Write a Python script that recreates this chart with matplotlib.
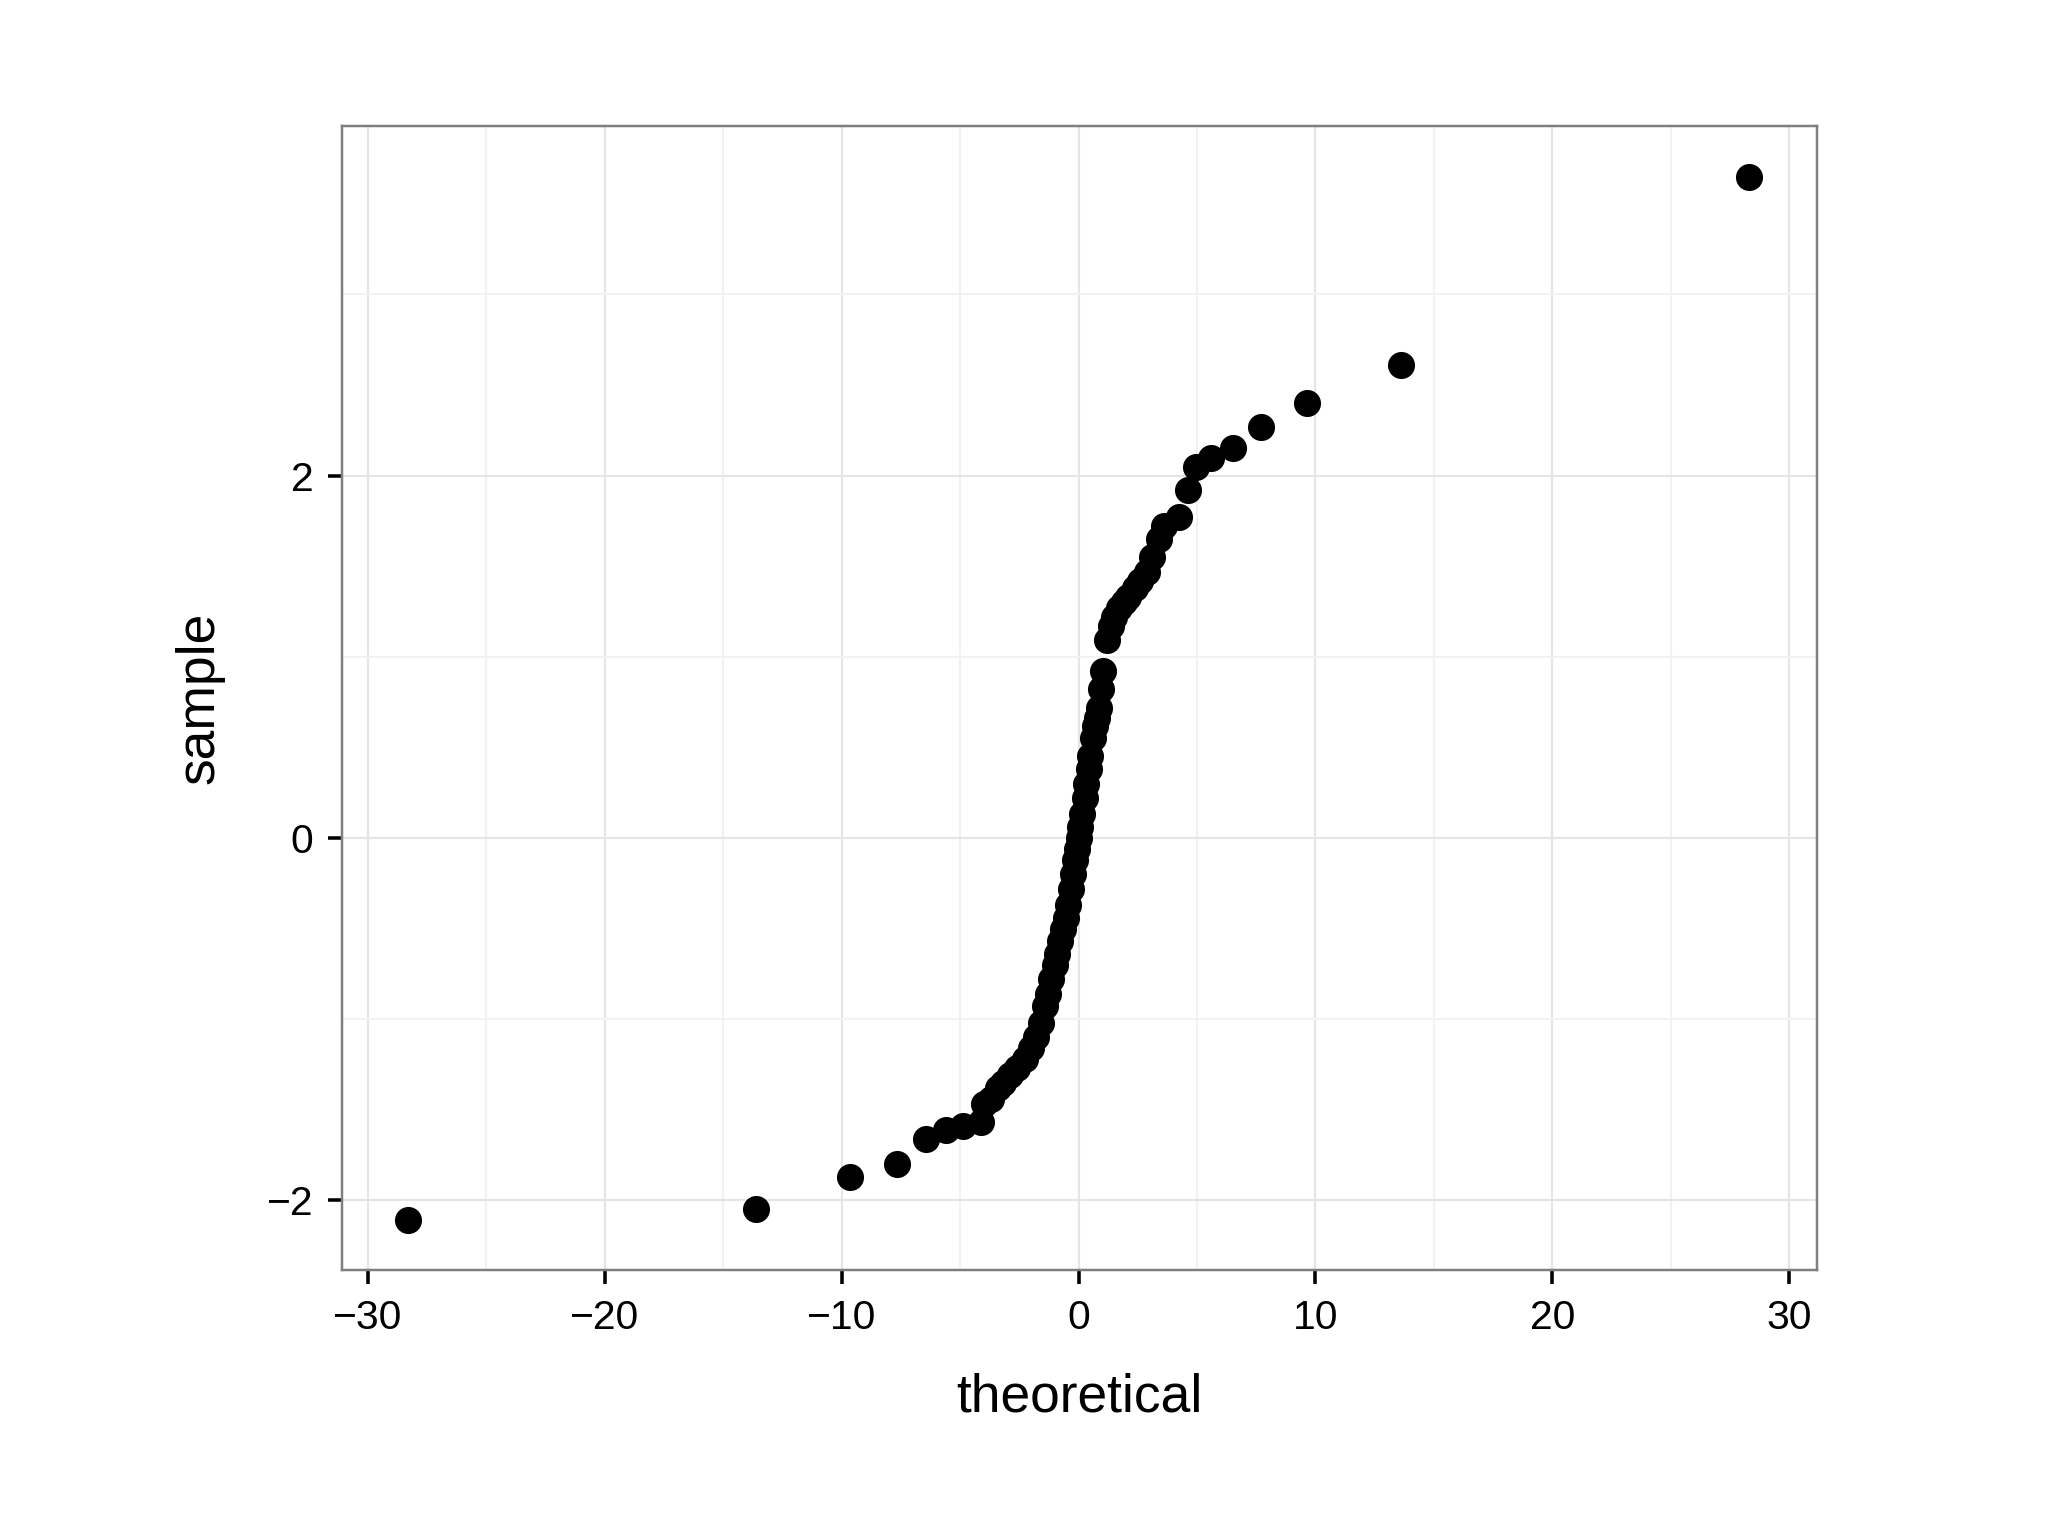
import matplotlib
matplotlib.use("Agg")
import matplotlib.pyplot as plt

plt.rcParams['font.family'] = ['Liberation Sans', 'DejaVu Sans']

theoretical = [-28.3, -13.6, -9.65, -7.67, -6.45, -5.6, -4.9, -4.1, -4.0, -3.7, -3.4, -3.2, -2.9, -2.6, -2.26,
               -2.0, -1.8, -1.6, -1.43, -1.3, -1.15, -1.0, -0.9, -0.77, -0.65, -0.55, -0.45, -0.33, -0.25,
               -0.15, -0.08, 0.0, 0.08, 0.15, 0.25, 0.33, 0.42, 0.5, 0.6, 0.7, 0.77, 0.85, 0.95, 1.05, 1.2,
               1.35, 1.5, 1.7, 1.9, 2.1, 2.4, 2.6, 2.9, 3.1, 3.4, 3.6, 4.25, 4.6, 4.96, 5.6, 6.5, 7.7, 9.65,
               13.6, 28.3]
sample = [-2.11, -2.05, -1.87, -1.80, -1.66, -1.61, -1.59, -1.57, -1.47, -1.44, -1.38, -1.35, -1.31, -1.27, -1.22,
          -1.16, -1.10, -1.02, -0.93, -0.86, -0.78, -0.70, -0.64, -0.57, -0.50, -0.44, -0.37, -0.28, -0.20,
          -0.12, -0.06, 0.0, 0.06, 0.13, 0.22, 0.30, 0.38, 0.45, 0.55, 0.62, 0.66, 0.72, 0.82, 0.92, 1.09,
          1.17, 1.22, 1.27, 1.30, 1.33, 1.38, 1.42, 1.47, 1.55, 1.65, 1.72, 1.77, 1.92, 2.05, 2.10, 2.15,
          2.27, 2.40, 2.61, 3.65]

fig = plt.figure(figsize=(8, 6), dpi=256)
ax = fig.add_axes([0.167, 0.173, 0.72, 0.745])
ax.scatter(theoretical, sample, s=58, color="black", zorder=3, linewidths=0)
ax.set_xlim(-31.1, 31.16)
ax.set_ylim(-2.386, 3.93)
ax.set_xticks([-30, -20, -10, 0, 10, 20, 30])
ax.set_xticklabels(["\u221230", "\u221220", "\u221210", "0", "10", "20", "30"])
ax.set_yticks([-2, 0, 2])
ax.set_yticklabels(["\u22122", "0", "2"])
ax.set_xticks([-25, -15, -5, 5, 15, 25], minor=True)
ax.set_yticks([-1, 1, 3], minor=True)
ax.grid(which="major", color="#e5e5e5", linewidth=0.6)
ax.grid(which="minor", color="#f2f2f2", linewidth=0.6)
ax.set_axisbelow(True)
for s in ax.spines.values():
    s.set_color("#7f7f7f")
    s.set_linewidth(0.7)
ax.tick_params(which="major", length=4, width=1, color="black", labelsize=11.5, pad=4)
ax.tick_params(which="minor", length=0)
ax.set_xlabel("theoretical", fontsize=15, labelpad=10)
ax.set_ylabel("sample", fontsize=15, labelpad=12)
fig.savefig("out.png")
